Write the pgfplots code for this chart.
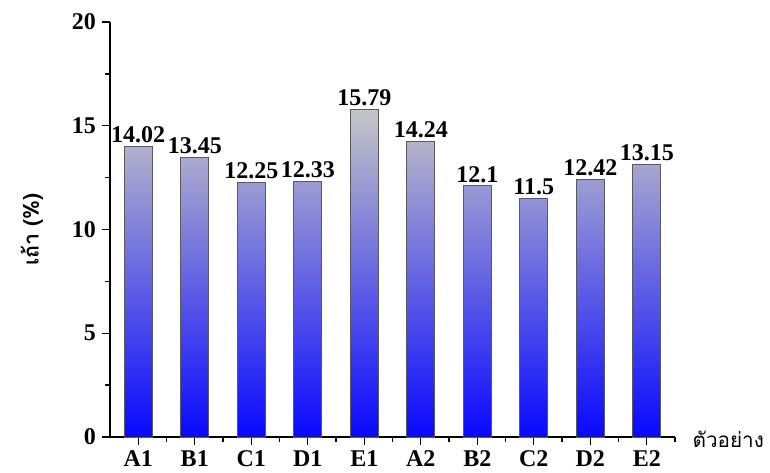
\documentclass[border=0pt]{standalone}
\usepackage{pgfplots}
\pgfplotsset{compat=1.18}
\usepackage{fontspec}
\setmainfont{Liberation Serif}
\newfontfamily\thaifont[Script=Thai]{Loma}
\definecolor{bargray}{RGB}{198,198,198}
\definecolor{barmid}{RGB}{165,165,215}
\definecolor{barblue}{RGB}{8,8,255}
\begin{document}
\begin{tikzpicture}
\path[use as bounding box] (-82.5pt,-27pt) rectangle (495pt,327.75pt);
\begin{axis}[
  at={(0,0)}, anchor=south west,
  scale only axis, width=423.75pt, height=311.25pt,
  xmin=-0.5, xmax=9.5, ymin=0, ymax=20,
  axis lines=left, axis line style={-, line width=1.4pt, black},
  xtick={0,...,9},
  xticklabels={A1,B1,C1,D1,E1,A2,B2,C2,D2,E2},
  minor xtick={0.5,1.5,...,9.5},
  ytick={0,5,10,15,20},
  minor ytick={2.5,7.5,12.5,17.5},
  tick align=outside,
  major tick length=6pt, minor tick length=3.5pt,
  every tick/.style={line width=1.1pt, black},
  /pgf/number format/assume math mode=true,
  ticklabel style={font=\fontsize{18}{21}\selectfont\bfseries},
  xticklabel style={yshift=-1pt},
  yticklabel style={xshift=-1pt},
  ybar, bar width=21pt,
  nodes near coords,
  every node near coord/.append style={font=\fontsize{18}{21}\selectfont\bfseries, black, yshift=-1pt},
  clip=false,
]
\addplot[draw=black!65, line width=0.7pt, top color=bargray, middle color=barmid, bottom color=barblue] coordinates {
(0,14.02) (1,13.45) (2,12.25) (3,12.33) (4,15.79) (5,14.24) (6,12.1) (7,11.5) (8,12.42) (9,13.15)};
\node[anchor=west, inner sep=1pt, font=\thaifont\fontsize{15.5}{19}\selectfont] at ([xshift=12pt,yshift=-2pt]rel axis cs:1,0) {ตัวอย่าง};
\node[rotate=90, font=\thaifont\bfseries\fontsize{16}{19}\selectfont] at ([xshift=-58.5pt]rel axis cs:0,0.5) {เถ้า (\%)};
\end{axis}
\end{tikzpicture}
\end{document}
